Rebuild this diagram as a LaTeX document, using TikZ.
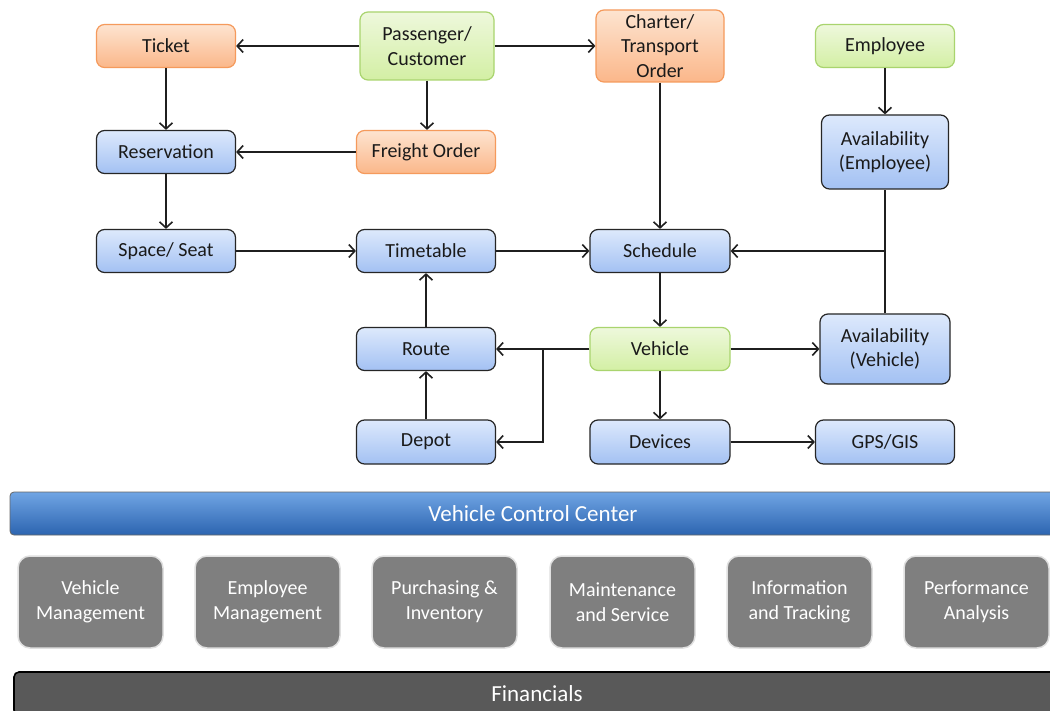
\documentclass[tikz,border=0pt]{standalone}
\usepackage{fontspec}
\setmainfont{Carlito}
\usetikzlibrary{arrows.meta}
\definecolor{bluetop}{HTML}{DDE9FC}
\definecolor{bluebot}{HTML}{A3C1F3}
\definecolor{orgtop}{HTML}{FDE4D0}
\definecolor{orgbot}{HTML}{FBB78A}
\definecolor{orgline}{HTML}{F59A5C}
\definecolor{grntop}{HTML}{EEF8DC}
\definecolor{grnbot}{HTML}{D3EFA4}
\definecolor{grnline}{HTML}{A9D46E}
\definecolor{vcctop}{HTML}{70A5E4}
\definecolor{vccbot}{HTML}{2C64B0}
\definecolor{graybox}{HTML}{7F7F7F}
\definecolor{finfill}{HTML}{595959}
\definecolor{txt}{HTML}{1A1A1A}
\tikzset{
  base/.style={rounded corners=8pt, align=center, text=txt,
    font=\fontsize{20}{24.5}\selectfont, inner sep=0pt, line width=1.2pt},
  bluebox/.style={base, draw=black!85, top color=bluetop, bottom color=bluebot,
    minimum width=139pt, minimum height=43pt},
  orgbox/.style={base, draw=orgline, top color=orgtop, bottom color=orgbot,
    minimum width=139pt, minimum height=43pt},
  grnbox/.style={base, draw=grnline, top color=grntop, bottom color=grnbot,
    minimum width=139pt, minimum height=43pt},
  modbox/.style={rounded corners=12pt, fill=graybox, draw=black!12, line width=1.5pt,
    text=white, align=center, font=\fontsize{20}{25}\selectfont,
    minimum width=145pt, minimum height=92pt, inner sep=0pt},
  arr/.style={draw=black!88, line width=2pt,
    -{Straight Barb[length=6pt,width=13pt,line width=1.6pt]}},
  ln/.style={draw=black!88, line width=2pt}
}
\begin{document}
\begin{tikzpicture}[x=1pt,y=-1pt]
\path[use as bounding box, fill=white] (0,0) rectangle (1050,711);

% top row
\node[orgbox] (ticket) at (166,46) {Ticket};
\node[grnbox, minimum width=134pt, minimum height=68pt] (pass) at (427,46) {Passenger/\\Customer};
\node[orgbox, minimum width=128pt, minimum height=72pt] (charter) at (660,46) {Charter/\\Transport\\Order};
\node[grnbox] (emp) at (885,46) {Employee};
% second row
\node[bluebox] (res) at (166,152) {Reservation};
\node[orgbox] (freight) at (426,152) {Freight Order};
\node[bluebox, minimum width=127pt, minimum height=74pt] (avemp) at (885,152) {Availability\\(Employee)};
% third row
\node[bluebox] (space) at (166,251) {Space/ Seat};
\node[bluebox] (tt) at (426,251) {Timetable};
\node[bluebox, minimum width=140pt] (sched) at (660,251) {Schedule};
% fourth row
\node[bluebox] (route) at (426,349) {Route};
\node[grnbox, minimum width=140pt] (veh) at (660,349) {Vehicle};
\node[bluebox, minimum width=130pt, minimum height=70pt] (avveh) at (885,349) {Availability\\(Vehicle)};
% fifth row
\node[bluebox, minimum height=44pt] (depot) at (426,442) {Depot};
\node[bluebox, minimum width=140pt, minimum height=44pt] (dev) at (660,442) {Devices};
\node[bluebox, minimum height=44pt] (gps) at (885,442) {GPS/GIS};

% connectors
\draw[arr] (pass.west) -- (ticket.east);
\draw[arr] (pass.east) -- (charter.west);
\draw[arr] (pass.south) -- (pass.south |- freight.north);
\draw[arr] (ticket.south) -- (res.north);
\draw[arr] (freight.west) -- (res.east);
\draw[arr] (res.south) -- (space.north);
\draw[arr] (space.east) -- (tt.west);
\draw[arr] (tt.east) -- (sched.west);
\draw[arr] (charter.south) -- (sched.north);
\draw[arr] (emp.south) -- (avemp.north);
\draw[ln] (avveh.north) -- (avemp.south);
\coordinate (j1) at (avemp.south |- sched.east);
\draw[arr] (j1) -- (sched.east);
\draw[arr] (sched.south) -- (veh.north);
\draw[arr] (veh.west) -- (route.east);
\coordinate (j2) at (543,349);
\draw[arr] (j2) |- (depot.east);
\draw[arr] (veh.east) -- (avveh.west);
\draw[arr] (veh.south) -- (dev.north);
\draw[arr] (dev.east) -- (gps.west);
\draw[arr] (depot.north) -- (route.south);
\draw[arr] (route.north) -- (tt.south);

% vehicle control center bar
\node[draw=black!60, line width=0.8pt, top color=vcctop, bottom color=vccbot,
  rounded corners=4pt, minimum width=1046pt, minimum height=43pt, inner sep=0pt,
  text=white, font=\fontsize{23}{26}\selectfont] (vcc) at (533,513.5) {Vehicle Control Center};

% module boxes
\node[modbox] (m1) at (90.5,602) {Vehicle\\Management};
\node[modbox] (m2) at (267.5,602) {Employee\\Management};
\node[modbox] (m3) at (444.5,602) {Purchasing \&\\Inventory};
\node[modbox] (m4) at (622.5,602) {Maintenance\\and Service};
\node[modbox] (m5) at (799.5,602) {Information\\and Tracking};
\node[modbox] (m6) at (976.5,602) {Performance\\Analysis};

% financials bar
\node[draw=black, line width=1.6pt, fill=finfill, rounded corners=5pt,
  minimum width=1046pt, minimum height=43pt, inner sep=0pt,
  text=white, font=\fontsize{23}{26}\selectfont] (fin) at (537,693.5) {Financials};
\end{tikzpicture}
\end{document}
